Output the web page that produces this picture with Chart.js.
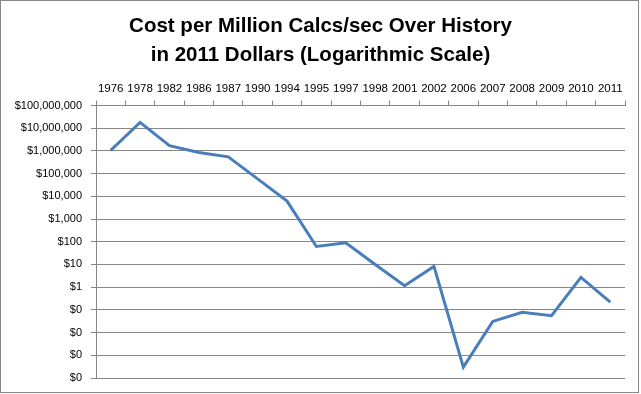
<!DOCTYPE html>
<html>
<head>
<meta charset="utf-8">
<script src="https://cdn.jsdelivr.net/npm/chart.js@4/dist/chart.umd.min.js"></script>
<style>
html,body{margin:0;padding:0;background:#fff;}
#wrap{position:relative;width:641px;height:394px;}
#c{position:absolute;left:0;top:0;}
#frame{position:absolute;left:0;top:0;width:639px;height:393px;box-sizing:border-box;border:1px solid #878787;pointer-events:none;}
</style>
</head>
<body>
<div id="wrap"><canvas id="c" width="641" height="394"></canvas><div id="frame"></div></div>
<script>
const years = ['1976','1978','1982','1986','1987','1990','1994','1995','1997','1998','2001','2002','2006','2007','2008','2009','2010','2011'];
const costPerMillionCalcs = [1.05e6, 1.8e7, 1.7e6, 8.6e5, 5.5e5, 5.9e4, 6.2e3, 62, 90, 10, 1.15, 8.2, 0.0003, 0.031, 0.079, 0.055, 2.7, 0.22];
const yTickValues = [1e-4, 1e-3, 1e-2, 1e-1, 1, 10, 100, 1e3, 1e4, 1e5, 1e6, 1e7, 1e8];
const titleLines = ['Cost per Million Calcs/sec Over History', 'in 2011 Dollars (Logarithmic Scale)'];

const gridColor = '#868686';

new Chart(document.getElementById('c'), {
  type: 'line',
  data: {
    labels: years,
    datasets: [{
      data: costPerMillionCalcs,
      borderColor: '#4A7EBB',
      borderWidth: 3,
      pointRadius: 0,
      tension: 0,
      fill: false
    }]
  },
  options: {
    responsive: false,
    animation: false,
    layout: { padding: { top: 0, right: 0, bottom: 16, left: 0 } },
    plugins: {
      legend: { display: false },
      tooltip: { enabled: false },
      title: {
        display: true,
        text: titleLines,
        color: '#000',
        font: { family: 'Liberation Sans', size: 20.5, weight: 'bold', lineHeight: 1.42 },
        padding: { top: 11.5, bottom: 7 }
      }
    },
    scales: {
      x: {
        type: 'category',
        position: 'top',
        offset: true,
        grid: { display: true, offset: true, drawOnChartArea: false, drawTicks: true, tickLength: 5, color: gridColor, lineWidth: 1 },
        border: { display: true, color: gridColor, width: 1 },
        ticks: { color: '#000', font: { family: 'Liberation Sans', size: 11.5 }, padding: 5, autoSkip: false, maxRotation: 0, minRotation: 0 }
      },
      y: {
        type: 'logarithmic',
        min: 1e-4,
        max: 1e8,
        afterBuildTicks: (scale) => { scale.ticks = yTickValues.map(v => ({ value: v })); },
        afterFit: (scale) => { scale.width = 96; },
        grid: { color: gridColor, lineWidth: 1, drawTicks: true, tickLength: 5 },
        border: { display: true, color: gridColor, width: 1 },
        ticks: {
          color: '#000',
          font: { family: 'Liberation Sans', size: 11 },
          padding: 9,
          autoSkip: false,
          callback: (v) => '$' + Math.round(v).toLocaleString('en-US')
        }
      },
      yRightSpace: {
        type: 'linear',
        position: 'right',
        display: true,
        grid: { display: false, drawTicks: false },
        border: { display: false },
        ticks: { display: false },
        afterFit: (scale) => { scale.width = 16; }
      }
    }
  }
});
</script>
</body>
</html>
